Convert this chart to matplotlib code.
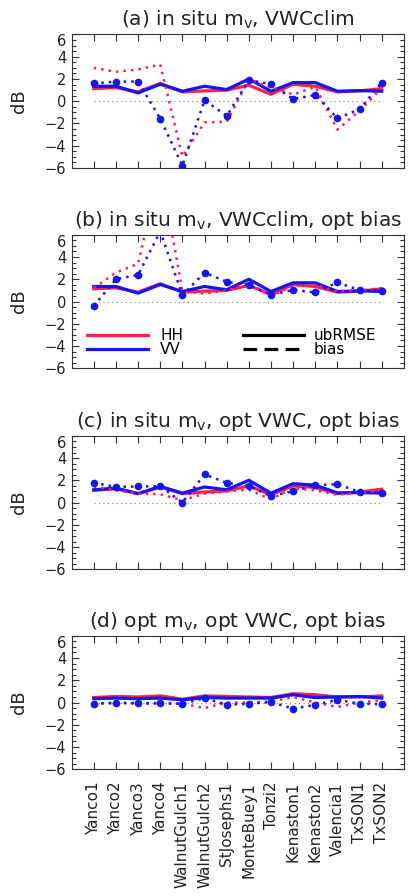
import numpy as np
import matplotlib.pyplot as plt
from matplotlib.ticker import MultipleLocator
from matplotlib.lines import Line2D

plt.rcParams['font.family'] = ['DejaVu Sans']
plt.rcParams['mathtext.default'] = 'regular'

sites = ['Yanco1', 'Yanco2', 'Yanco3', 'Yanco4', 'WalnutGulch1', 'WalnutGulch2',
         'StJosephs1', 'MonteBuey1', 'Tonzi2', 'Kenaston1', 'Kenaston2',
         'Valencia1', 'TxSON1', 'TxSON2']

# (a) in situ mv, VWCclim  /  (b) same with optimised bias (ubRMSE unchanged)
ub_hh_clim = [1.14, 1.23, 0.84, 1.60, 0.84, 0.93, 1.00, 1.44, 0.63, 1.53, 1.35, 0.84, 0.93, 1.14]
ub_vv_clim = [1.35, 1.35, 0.75, 1.53, 0.90, 1.35, 1.05, 2.00, 0.90, 1.68, 1.68, 0.90, 0.96, 0.90]
bias_hh_a = [3.0, 2.65, 2.86, 3.3, -4.96, -1.9, -1.85, 1.95, 1.25, 0.6, 1.3, -2.55, -0.85, 1.2]
bias_vv_a = [1.6, 1.77, 1.77, -1.56, -5.8, 0.09, -1.32, 1.9, 1.53, 0.2, 0.57, -1.53, -0.72, 1.68]
bias_hh_b = [1.2, 2.6, 3.4, 12.0, 0.95, 0.7, 1.0, 1.7, 0.45, 1.4, 1.5, 0.9, 1.0, 1.2]
bias_vv_b = [-0.39, 2.0, 2.4, 6.3, 0.57, 2.6, 1.77, 1.47, 0.6, 1.05, 0.81, 1.71, 1.02, 0.96]

# (c) in situ mv, opt VWC, opt bias
ub_hh_c = [1.1, 1.25, 0.8, 1.4, 0.8, 0.95, 1.05, 1.5, 0.7, 1.5, 1.35, 0.8, 0.95, 1.2]
ub_vv_c = [1.15, 1.3, 0.8, 1.45, 0.85, 1.4, 1.15, 2.0, 0.85, 1.7, 1.56, 0.87, 0.9, 0.85]
bias_hh_c = [1.45, 1.1, 0.8, 0.75, 0.2, 0.8, 1.0, 1.15, 0.3, 1.3, 1.1, 0.7, 0.9, 1.1]
bias_vv_c = [1.77, 1.41, 1.45, 1.47, 0.0, 2.53, 1.77, 1.5, 0.57, 1.02, 1.56, 1.65, 0.96, 0.87]

# (d) opt mv, opt VWC, opt bias
ub_hh_d = [0.45, 0.55, 0.5, 0.6, 0.3, 0.6, 0.55, 0.5, 0.45, 0.8, 0.7, 0.5, 0.5, 0.6]
ub_vv_d = [0.35, 0.4, 0.35, 0.4, 0.25, 0.45, 0.4, 0.4, 0.4, 0.7, 0.45, 0.5, 0.55, 0.4]
bias_hh_d = [-0.1, 0.0, -0.1, -0.1, -0.1, -0.5, 0.0, 0.0, 0.1, 0.5, 0.0, -0.4, 0.0, 0.2]
bias_vv_d = [-0.1, -0.05, -0.05, -0.05, -0.1, 0.4, -0.2, -0.1, 0.05, -0.55, -0.2, 0.25, -0.1, -0.15]

titles = ['(a) in situ m$_v$, VWCclim',
          '(b) in situ m$_v$, VWCclim, opt bias',
          '(c) in situ m$_v$, opt VWC, opt bias',
          '(d) opt m$_v$, opt VWC, opt bias']

panels = [(ub_hh_clim, ub_vv_clim, bias_hh_a, bias_vv_a),
          (ub_hh_clim, ub_vv_clim, bias_hh_b, bias_vv_b),
          (ub_hh_c, ub_vv_c, bias_hh_c, bias_vv_c),
          (ub_hh_d, ub_vv_d, bias_hh_d, bias_vv_d)]

red = '#FF2050'
blue = '#1414F5'
dots = (0, (1, 2.0))

x = np.arange(len(sites))
bottoms = [0.8125, 0.589, 0.3646, 0.1414]

fig = plt.figure(figsize=(4.19, 8.96), dpi=100)

for i in range(4):
    hh, vv, bhh, bvv = panels[i]
    ax = fig.add_axes([0.171, bottoms[i], 0.793, 0.149])
    ax.plot([x[0], x[-1]], [0, 0], color='#808080', lw=0.8, linestyle=(0, (1, 3)))
    ax.plot(x, hh, color=red, lw=2.3)
    ax.plot(x, vv, color=blue, lw=2.3)
    ax.plot(x, bhh, color=red, lw=1.8, linestyle=dots)
    ax.plot(x, bvv, color=blue, lw=1.8, linestyle=dots, marker='o', markersize=4.5)

    ax.set_xlim(-1, 14)
    ax.set_ylim(-6, 6)
    ax.set_xticks(x)
    ax.set_yticks(np.arange(-6, 7, 2))
    ax.yaxis.set_minor_locator(MultipleLocator(0.5))
    ax.tick_params(axis='both', which='both', direction='in', top=True, right=True,
                   width=0.8, colors='#333333')
    ax.tick_params(axis='both', which='major', length=5)
    ax.tick_params(axis='y', which='minor', length=3)
    ax.tick_params(axis='y', labelsize=10.5, pad=4, labelcolor='#222222')
    for s in ax.spines.values():
        s.set_linewidth(0.8)
        s.set_color('#333333')
    ax.get_yticklabels()[-1].set_verticalalignment('top')

    if i == 3:
        ax.set_xticklabels(sites, rotation=90, fontsize=11, color='#222222')
        ax.tick_params(axis='x', pad=9)
    else:
        ax.set_xticklabels([])

    ax.set_ylabel('dB', fontsize=13, color='#222222')
    ax.yaxis.set_label_coords(-0.13, 0.5)
    ax.set_title(titles[i], fontsize=14.5, pad=6, color='#222222')

    if i == 1:
        pol = [Line2D([], [], color=red, lw=2.3), Line2D([], [], color=blue, lw=2.3)]
        leg1 = ax.legend(pol, ['HH', 'VV'], loc='upper left', bbox_to_anchor=(0.046, 0.30),
                         frameon=False, fontsize=11, handlelength=4.0, handletextpad=0.8,
                         labelspacing=-0.05, borderpad=0, borderaxespad=0)
        ax.add_artist(leg1)
        kind = [Line2D([], [], color='black', lw=2.3),
                Line2D([], [], color='black', lw=2.3, linestyle=(0, (4.3, 2.3)))]
        ax.legend(kind, ['ubRMSE', 'bias'], loc='upper left', bbox_to_anchor=(0.515, 0.30),
                  frameon=False, fontsize=11, handlelength=4.0, handletextpad=0.65,
                  labelspacing=-0.05, borderpad=0, borderaxespad=0)

fig.savefig('out.png', dpi=100)
